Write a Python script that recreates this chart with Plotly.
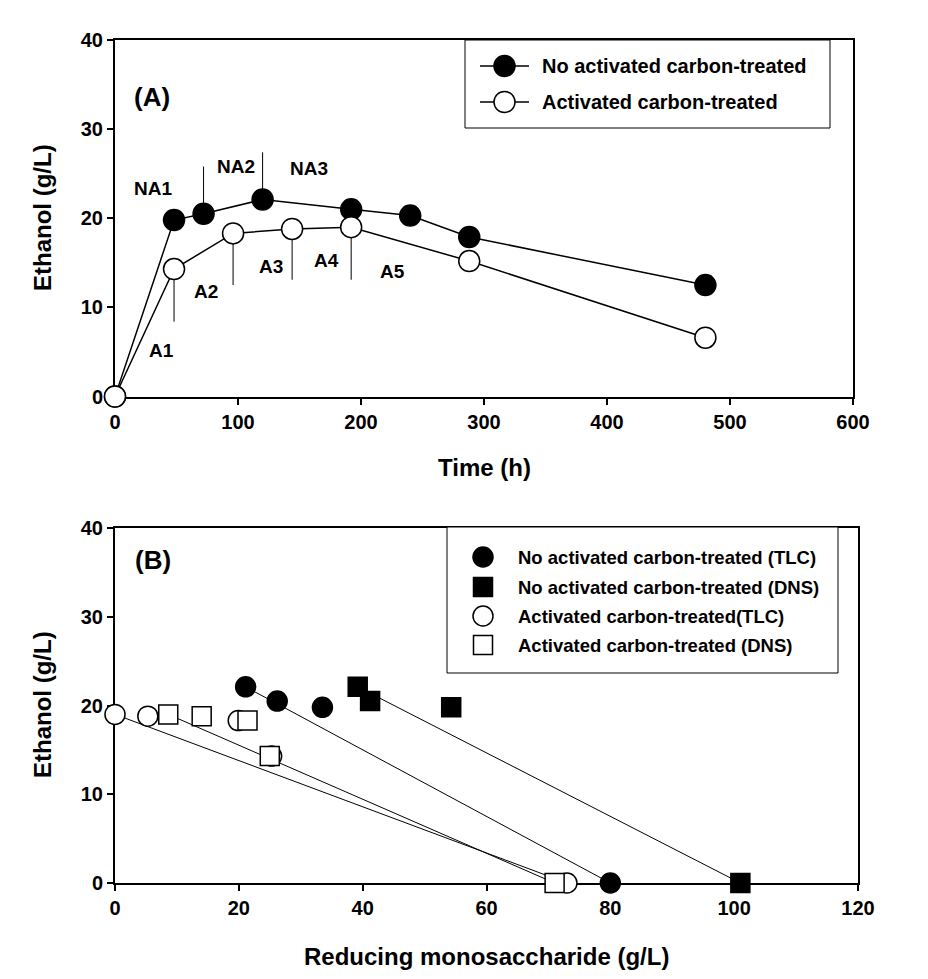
import plotly.graph_objects as go

# ---------------- Data: panel (A) ----------------
time_na = [0, 48, 72, 120, 192, 240, 288, 480]
ethanol_na = [0, 19.8, 20.5, 22.1, 21.0, 20.3, 17.9, 12.5]
time_ac = [0, 48, 96, 144, 192, 288, 480]
ethanol_ac = [0, 14.3, 18.3, 18.8, 19.0, 15.2, 6.6]

# sample labels in (A): text, label x, label y, line x, line y0, line y1
label_text = ["NA1", "NA2", "NA3", "A1", "A2", "A3", "A4", "A5"]
label_x = [31, 98, 158, 38, 74, 127, 172, 226]
label_y = [23.3, 25.8, 25.6, 5.2, 11.8, 14.6, 15.3, 14.0]
tick_line_x = [72, 120, 48, 96, 144, 192]
tick_line_y0 = [20.5, 22.1, 14.3, 18.3, 18.8, 19.0]
tick_line_y1 = [25.8, 27.4, 8.4, 12.5, 13.1, 13.1]

# ---------------- Data: panel (B) ----------------
na_tlc_sugar = [80.0, 21.1, 26.2, 33.5]
na_tlc_eth = [0, 22.1, 20.5, 19.8]
na_dns_sugar = [101.0, 39.2, 41.2, 54.3]
na_dns_eth = [0, 22.1, 20.5, 19.8]
ac_tlc_sugar = [73.0, 0.0, 5.3, 19.9, 25.3]
ac_tlc_eth = [0, 19.0, 18.8, 18.3, 14.3]
ac_dns_sugar = [71.0, 8.6, 14.0, 21.4, 25.0]
ac_dns_eth = [0, 19.0, 18.8, 18.3, 14.3]

FONT = "Liberation Sans, Arial, sans-serif"
W, H = 928, 979
OFF = 8  # page body margin
L, R, T, B = 115, 858, 40, 883  # plot region in page pixels
ML, MR, MT, MB = L - OFF, W - (R - OFF), T - OFF, H - (B - OFF)


def px(x):
    return (x - L) / (R - L)


def py(y):
    return (B - y) / (B - T)


fig = go.Figure()

# ---- panel A traces ----
fig.add_trace(go.Scatter(
    x=time_na, y=ethanol_na, mode="lines+markers", xaxis="x", yaxis="y",
    line=dict(color="black", width=1.5),
    marker=dict(symbol="circle", size=21, color="black", line=dict(color="black", width=1.5)),
    cliponaxis=False, showlegend=False))
fig.add_trace(go.Scatter(
    x=time_ac, y=ethanol_ac, mode="lines+markers", xaxis="x", yaxis="y",
    line=dict(color="black", width=1.5),
    marker=dict(symbol="circle", size=21, color="white", line=dict(color="black", width=1.5)),
    cliponaxis=False, showlegend=False))

# ---- panel B connecting lines ----
for sx, sy in [(na_tlc_sugar, na_tlc_eth), (na_dns_sugar, na_dns_eth),
               (ac_tlc_sugar, ac_tlc_eth), (ac_dns_sugar, ac_dns_eth)]:
    fig.add_trace(go.Scatter(
        x=[sx[1], sx[0]], y=[sy[1], sy[0]], mode="lines", xaxis="x2", yaxis="y2",
        line=dict(color="black", width=1), cliponaxis=False, showlegend=False))

# ---- panel B markers ----
fig.add_trace(go.Scatter(
    x=na_tlc_sugar, y=na_tlc_eth, mode="markers", xaxis="x2", yaxis="y2",
    marker=dict(symbol="circle", size=20, color="black", line=dict(color="black", width=1.5)),
    cliponaxis=False, showlegend=False))
fig.add_trace(go.Scatter(
    x=na_dns_sugar, y=na_dns_eth, mode="markers", xaxis="x2", yaxis="y2",
    marker=dict(symbol="square", size=19, color="black", line=dict(color="black", width=1.5)),
    cliponaxis=False, showlegend=False))
fig.add_trace(go.Scatter(
    x=ac_tlc_sugar, y=ac_tlc_eth, mode="markers", xaxis="x2", yaxis="y2",
    marker=dict(symbol="circle", size=20, color="white", line=dict(color="black", width=1.5)),
    cliponaxis=False, showlegend=False))
fig.add_trace(go.Scatter(
    x=ac_dns_sugar, y=ac_dns_eth, mode="markers", xaxis="x2", yaxis="y2",
    marker=dict(symbol="square", size=19, color="white", line=dict(color="black", width=1.5)),
    cliponaxis=False, showlegend=False))

shapes = []
annotations = []


def note(text, x, y, size, xanchor="center", textangle=0):
    annotations.append(dict(text=text, x=x, y=y, xref="paper", yref="paper",
                            xanchor=xanchor, yanchor="middle", textangle=textangle,
                            showarrow=False,
                            font=dict(family=FONT, size=size, color="black", weight="bold")))


# sample tick lines in (A)
for lx, y0, y1 in zip(tick_line_x, tick_line_y0, tick_line_y1):
    shapes.append(dict(type="line", xref="x", yref="y", x0=lx, x1=lx, y0=y0, y1=y1,
                       line=dict(color="black", width=1), layer="below"))
for t, lx, ly in zip(label_text, label_x, label_y):
    annotations.append(dict(text=t, x=lx, y=ly, xref="x", yref="y", showarrow=False,
                            xanchor="center", yanchor="middle",
                            font=dict(family=FONT, size=19, color="black", weight="bold")))

# panel letters
note("(A)", px(152), py(97), 26)
note("(B)", px(153), py(560), 26)

# axis titles
note("Ethanol (g/L)", px(42), py(218), 24, textangle=-90)
note("Ethanol (g/L)", px(42), py(705), 24, textangle=-90)
note("Time (h)", px(484), py(468), 24)
note("Reducing monosaccharide (g/L)", px(486), py(956), 24)

# ---- legend A ----
shapes.append(dict(type="rect", xref="paper", yref="paper", x0=px(465), x1=px(830),
                   y0=py(40), y1=py(128), line=dict(color="black", width=1), fillcolor="white"))
legA = [("No activated carbon-treated", "black"), ("Activated carbon-treated", "white")]
for i, (txt, fc) in enumerate(legA):
    yy = 66 + i * 36
    shapes.append(dict(type="line", xref="paper", yref="paper", x0=px(480), x1=px(529),
                       y0=py(yy), y1=py(yy), line=dict(color="black", width=1.5)))
    shapes.append(dict(type="circle", xref="paper", yref="paper", x0=px(494), x1=px(515),
                       y0=py(yy - 10.5), y1=py(yy + 10.5), line=dict(color="black", width=1.5),
                       fillcolor=fc))
    note(txt, px(540), py(yy), 20, xanchor="left")

# ---- legend B ----
shapes.append(dict(type="rect", xref="paper", yref="paper", x0=px(447), x1=px(838),
                   y0=py(527), y1=py(673), line=dict(color="black", width=1), fillcolor="white"))
legB = [("No activated carbon-treated (TLC)", "circle", "black"),
        ("No activated carbon-treated (DNS)", "rect", "black"),
        ("Activated carbon-treated(TLC)", "circle", "white"),
        ("Activated carbon-treated (DNS)", "rect", "white")]
legB_y = [557, 587, 616, 645]
for (txt, sym, fc), yy in zip(legB, legB_y):
    r = 10 if sym == "circle" else 9.5
    shapes.append(dict(type=sym, xref="paper", yref="paper", x0=px(483 - r), x1=px(483 + r),
                       y0=py(yy - r), y1=py(yy + r), line=dict(color="black", width=1.5),
                       fillcolor=fc))
    note(txt, px(516), py(yy), 18.5, xanchor="left")

axis_common = dict(showgrid=False, zeroline=False, showline=True, linecolor="black",
                   linewidth=2, mirror=True, ticks="outside", ticklen=6, tickwidth=1.5,
                   tickcolor="black", layer="below traces",
                   tickfont=dict(family=FONT, size=20, color="black", weight="bold"))

fig.update_layout(
    width=W, height=H, autosize=False,
    margin=dict(l=ML, r=MR, t=MT, b=MB),
    paper_bgcolor="white", plot_bgcolor="white",
    showlegend=False,
    xaxis=dict(domain=[0, px(853)], range=[0, 600], dtick=100, anchor="y", **axis_common),
    yaxis=dict(domain=[py(396.5), 1], range=[0, 40], dtick=10, anchor="x", **axis_common),
    xaxis2=dict(domain=[0, 1], range=[0, 120], dtick=20, anchor="y2", **axis_common),
    yaxis2=dict(domain=[0, py(528)], range=[0, 40], dtick=10, anchor="x2", **axis_common),
    shapes=shapes, annotations=annotations,
)

fig.write_html("out.html")
